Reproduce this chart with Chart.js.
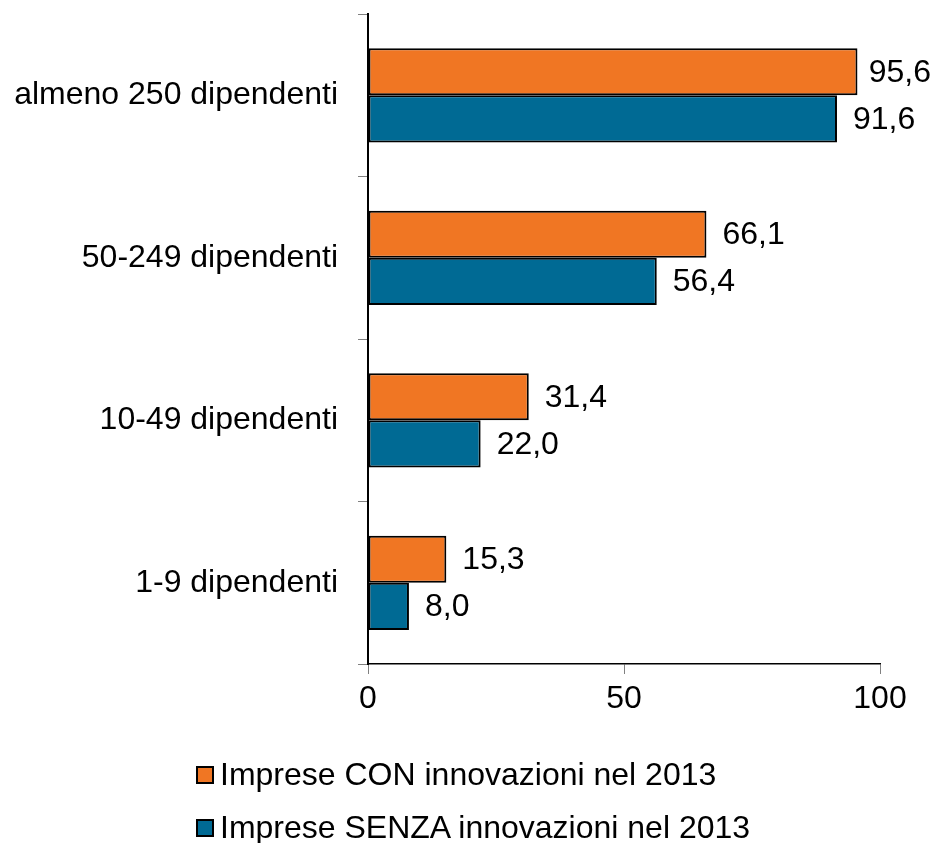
<!DOCTYPE html>
<html>
<head>
<meta charset="utf-8">
<script src="https://cdn.jsdelivr.net/npm/chart.js@4/dist/chart.umd.min.js"></script>
<style>
  html, body { margin: 0; padding: 0; background: #fff; }
  #wrap { position: relative; width: 934px; height: 843px; overflow: hidden; }
  #legend { position: absolute; left: 196px; top: 748px; font-family: "Liberation Sans", Arial, sans-serif; font-size: 32px; color: #000; }
  .item { display: flex; align-items: center; height: 53px; }
  .box { width: 14px; height: 14px; border: 2px solid #000; margin-right: 6px; }
</style>
</head>
<body>
<div id="wrap">
  <canvas id="c" width="934" height="843"></canvas>
  <div id="legend"></div>
</div>
<script>
const categories = ["almeno 250 dipendenti", "50-249 dipendenti", "10-49 dipendenti", "1-9 dipendenti"];
const seriesNames = ["Imprese CON innovazioni nel 2013", "Imprese SENZA innovazioni nel 2013"];
const conValues = [95.6, 66.1, 31.4, 15.3];
const senzaValues = [91.6, 56.4, 22.0, 8.0];
const xTicks = [0, 50, 100];
const colors = ["#F07623", "#006A94"];

const FONT = '"Liberation Sans", Arial, sans-serif';

const labelPlugin = {
  id: 'barLabels',
  afterDatasetsDraw(chart) {
    const ctx = chart.ctx;
    ctx.save();
    ctx.font = '32px ' + FONT;
    ctx.fillStyle = '#000';
    ctx.textBaseline = 'middle';
    ctx.textAlign = 'left';
    chart.data.datasets.forEach((ds, di) => {
      const meta = chart.getDatasetMeta(di);
      meta.data.forEach((bar, i) => {
        const txt = ds.data[i].toFixed(1).replace('.', ',');
        const w = ctx.measureText(txt).width;
        let x = bar.x + 16;
        if (x + w > chart.width - 3) x = chart.width - 3 - w;
        ctx.fillText(txt, x, bar.y + 1);
      });
    });
    ctx.restore();
  }
};

new Chart(document.getElementById('c'), {
  type: 'bar',
  data: {
    labels: categories,
    datasets: [
      { label: seriesNames[0], data: conValues, backgroundColor: colors[0], borderColor: '#000', borderWidth: 2, borderSkipped: false },
      { label: seriesNames[1], data: senzaValues, backgroundColor: colors[1], borderColor: '#000', borderWidth: 2, borderSkipped: false }
    ]
  },
  options: {
    indexAxis: 'y',
    responsive: false,
    animation: false,
    devicePixelRatio: 1,
    layout: { padding: { top: 14, right: 54, left: 0, bottom: 0 } },
    datasets: { bar: { barPercentage: 1.0, categoryPercentage: 0.58 } },
    plugins: { legend: { display: false }, tooltip: { enabled: false } },
    scales: {
      x: {
        min: 0, max: 100,
        afterFit(s) { s.height = 843 - 664; s.paddingLeft = 0; s.paddingRight = 0; },
        afterBuildTicks(s) { s.ticks = xTicks.map(v => ({ value: v })); },
        grid: { drawOnChartArea: false, drawTicks: true, tickLength: 10, color: '#808080', lineWidth: 1 },
        border: { display: true, color: '#000', width: 1.5 },
        ticks: { font: { family: FONT, size: 32 }, color: '#000', padding: 6, maxRotation: 0 }
      },
      y: {
        afterFit(s) { s.width = 368; s.paddingTop = 0; s.paddingBottom = 0; },
        grid: { drawOnChartArea: false, drawTicks: true, tickLength: 10, color: '#808080', lineWidth: 1, offset: true },
        border: { display: true, color: '#000', width: 2 },
        ticks: { font: { family: FONT, size: 32 }, color: '#000', padding: 20 }
      }
    }
  },
  plugins: [labelPlugin]
});

const legend = document.getElementById('legend');
seriesNames.forEach((n, i) => {
  const d = document.createElement('div');
  d.className = 'item';
  const b = document.createElement('span');
  b.className = 'box';
  b.style.background = colors[i];
  const t = document.createElement('span');
  t.textContent = n;
  d.appendChild(b); d.appendChild(t);
  legend.appendChild(d);
});
</script>
</body>
</html>
